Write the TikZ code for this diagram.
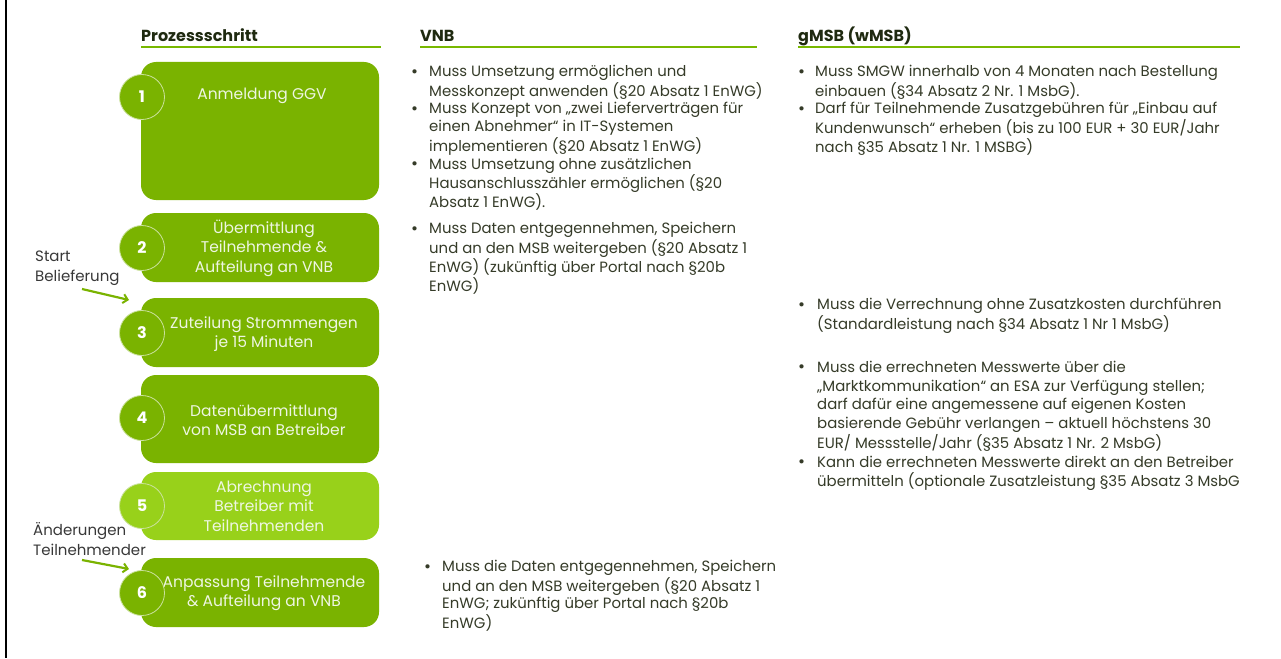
\documentclass[tikz,border=0pt]{standalone}
\usepackage{fontspec}
\setmainfont{Poppins}[BoldFont=* Bold]
\usetikzlibrary{arrows.meta}

\definecolor{stepgreen}{HTML}{7AB300}
\definecolor{stepgreenlight}{HTML}{98D11A}
\definecolor{rulegreen}{HTML}{78B800}
\definecolor{bodytext}{HTML}{353B28}
\definecolor{headtext}{HTML}{1F2A10}
\definecolor{boxtext}{HTML}{EEF6E2}
\definecolor{labeltext}{HTML}{383838}

\newcommand\bodyfont{\fontsize{14.9}{17.9}\selectfont}
\newcommand\boxfont{\fontsize{15.5}{19.5}\selectfont}
\newcommand\headfont{\bfseries\fontsize{16}{17}\selectfont}
\newcommand\blt{\raisebox{-0.5pt}{\fontsize{17}{17}\selectfont\textbullet}}

\begin{document}
\begin{tikzpicture}[x=1pt,y=-1pt,
  stepbox/.style={rectangle, rounded corners=15pt, fill=stepgreen, draw=none,
    minimum width=238pt, inner sep=0pt},
  stepnum/.style={circle, fill=stepgreen, draw=boxtext!70!stepgreen, line width=0.8pt,
    minimum size=45pt, inner sep=0pt, text=white, font=\bfseries\fontsize{16}{16}\selectfont},
  steptext/.style={align=center, text=boxtext, font=\boxfont, inner sep=0pt},
  header/.style={anchor=base west, text=headtext, font=\headfont, inner sep=0pt},
  headrule/.style={draw=rulegreen, line width=2.6pt},
  bulletlist/.style={anchor=north west, inner sep=0pt, text=bodytext, font=\bodyfont},
  sidelabel/.style={anchor=west, align=left, text=labeltext,
    font=\fontsize{15}{20}\selectfont, inner sep=0pt},
  sidearrow/.style={draw=stepgreen, line width=2.2pt,
    -{Straight Barb[length=4.5pt,width=9pt,line width=2pt]}}
]
\useasboundingbox (0,0) rectangle (1281,658);
\fill[white] (0,0) rectangle (1281,658);

% frame edge on the left
\draw[line width=2pt, black] (6,0) -- (6,658);

% column headers
\node[header] (hstep) at (141,41.5) {Prozessschritt};
\node[header] (hvnb) at (420,41.5) {VNB};
\node[header] (hmsb) at (798,41.5) {gMSB (wMSB)};
\draw[headrule] (141,47) -- (381,47);
\draw[headrule] (420,47) -- (757,47);
\draw[headrule] (798,47) -- (1240,47);

% process steps
\node[stepbox, minimum height=138pt] (b1) at (260,131) {};
\node[stepbox, minimum height=69pt] (b2) at (260,247.5) {};
\node[stepbox, minimum height=69pt] (b3) at (260,332.5) {};
\node[stepbox, minimum height=88pt] (b4) at (260,419) {};
\node[stepbox, minimum height=68pt, fill=stepgreenlight] (b5) at (260,506) {};
\node[stepbox, minimum height=69pt] (b6) at (260,592.5) {};

\node[steptext] (t1) at (262,96) {Anmeldung GGV};
\node[steptext] (t2) at (264,248) {Übermittlung\\Teilnehmende \&\\Aufteilung an VNB};
\node[steptext] (t3) at (264,334) {Zuteilung Strommengen\\je 15 Minuten};
\node[steptext] (t4) at (264,420) {Datenübermittlung\\von MSB an Betreiber};
\node[steptext] (t5) at (264,506) {Abrechnung\\Betreiber mit\\Teilnehmenden};
\node[steptext] (t6) at (264,593) {Anpassung Teilnehmende\\\& Aufteilung an VNB};

\node[stepnum] (n1) at (142,97) {1};
\node[stepnum] (n2) at (142,248) {2};
\node[stepnum] (n3) at (142,333) {3};
\node[stepnum] (n4) at (142,418) {4};
\node[stepnum, fill=stepgreenlight] (n5) at (142,506) {5};
\node[stepnum] (n6) at (142,593) {6};

% side notes with arrows
\node[sidelabel] (l1) at (35,268) {Start\\Belieferung};
\node[sidelabel] (l2) at (33,539) {Änderungen\\Teilnehmender};
\coordinate (a1s) at (82,289);
\coordinate (a1e) at (129,300);
\coordinate (a2s) at (82,560);
\coordinate (a2e) at (129,569);
\draw[sidearrow] (a1s) -- (a1e);
\draw[sidearrow] (a2s) -- (a2e);

% VNB column
\node[bulletlist] (v1) at (411,64) {\begin{tabular}{@{}p{18pt}@{}l@{}}
\blt & Muss Umsetzung ermöglichen und\\
 & Messkonzept anwenden (§20 Absatz 1 EnWG)\\
\blt & Muss Konzept von „zwei Lieferverträgen für\\
 & einen Abnehmer“ in IT-Systemen\\
 & implementieren (§20 Absatz 1 EnWG)\\
\blt & Muss Umsetzung ohne zusätzlichen\\
 & Hausanschlusszähler ermöglichen (§20\\
 & Absatz 1 EnWG).
\end{tabular}};
\node[bulletlist] (v2) at (411,221) {\begin{tabular}{@{}p{18pt}@{}l@{}}
\blt & Muss Daten entgegennehmen, Speichern\\
 & und an den MSB weitergeben (§20 Absatz 1\\
 & EnWG) (zukünftig über Portal nach §20b\\
 & EnWG)
\end{tabular}};
\node[bulletlist] (v3) at (424,559) {\begin{tabular}{@{}p{18pt}@{}l@{}}
\blt & Muss die Daten entgegennehmen, Speichern\\
 & und an den MSB weitergeben (§20 Absatz 1\\
 & EnWG; zukünftig über Portal nach §20b\\
 & EnWG)
\end{tabular}};

% gMSB column
\node[bulletlist] (m1) at (798,64) {\begin{tabular}{@{}p{17pt}@{}l@{}}
\blt & Muss SMGW innerhalb von 4 Monaten nach Bestellung\\
 & einbauen (§34 Absatz 2 Nr. 1 MsbG).\\
\blt & Darf für Teilnehmende Zusatzgebühren für „Einbau auf\\
 & Kundenwunsch“ erheben (bis zu 100 EUR + 30 EUR/Jahr\\
 & nach §35 Absatz 1 Nr. 1 MSBG)
\end{tabular}};
\node[bulletlist] (m2) at (798,297) {\begin{tabular}{@{}p{19pt}@{}l@{}}
\blt & Muss die Verrechnung ohne Zusatzkosten durchführen\\
 & (Standardleistung nach §34 Absatz 1 Nr 1 MsbG)
\end{tabular}};
\node[bulletlist, font=\fontsize{14.9}{18.8}\selectfont] (m3) at (798,359) {\begin{tabular}{@{}p{19pt}@{}l@{}}
\blt & Muss die errechneten Messwerte über die\\
 & „Marktkommunikation“ an ESA zur Verfügung stellen;\\
 & darf dafür eine angemessene auf eigenen Kosten\\
 & basierende Gebühr verlangen – aktuell höchstens 30\\
 & EUR/ Messstelle/Jahr (§35 Absatz 1 Nr. 2 MsbG)\\
\blt & Kann die errechneten Messwerte direkt an den Betreiber\\
 & übermitteln (optionale Zusatzleistung §35 Absatz 3 MsbG
\end{tabular}};
\end{tikzpicture}
\end{document}
